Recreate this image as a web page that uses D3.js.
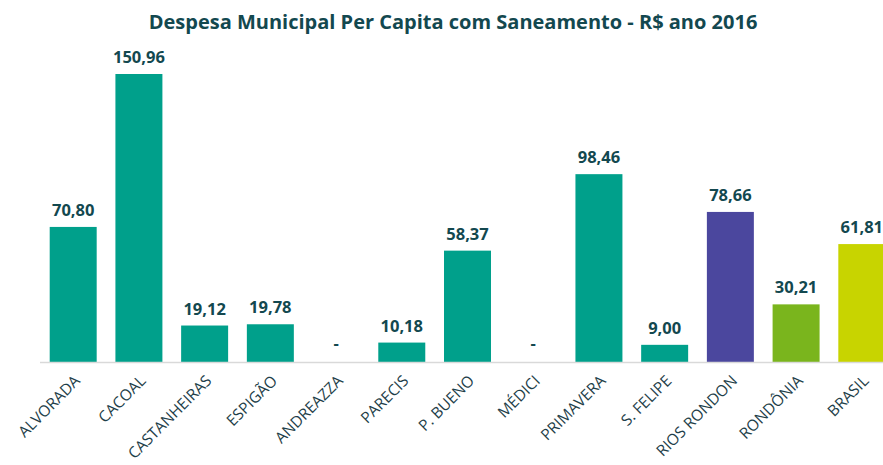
<!DOCTYPE html>
<html>
<head>
<meta charset="utf-8">
<script src="https://cdn.jsdelivr.net/npm/d3@7"></script>
<style>
  body { margin: 0; background: #fff; }
  text { font-family: "Open Sans", sans-serif; }
</style>
</head>
<body>
<script>
var w = 883; // width of SVG space
var h = 465; // height of SVG space

// data (null = no value, shown as "-")
var categories = ["ALVORADA", "CACOAL", "CASTANHEIRAS", "ESPIGÃO", "ANDREAZZA", "PARECIS", "P. BUENO",
                  "MÉDICI", "PRIMAVERA", "S. FELIPE", "RIOS RONDON", "RONDÔNIA", "BRASIL"];
var values = [70.80, 150.96, 19.12, 19.78, null, 10.18, 58.37, null, 98.46, 9.00, 78.66, 30.21, 61.81];
var barColors = ["#00a08b", "#00a08b", "#00a08b", "#00a08b", "#00a08b", "#00a08b", "#00a08b",
                 "#00a08b", "#00a08b", "#00a08b", "#4b479e", "#7ab51d", "#c8d400"];

var svg = d3.select("body").append("svg").attr("width", w).attr("height", h);

var baseY = 362;

var x = d3.scaleBand().domain(categories).range([40.5, 894.5]).paddingInner(0.285).paddingOuter(0.14);
var y = d3.scaleLinear().domain([0, 150.96]).range([baseY, 74]);

// title
svg.append("text")
  .attr("x", 453).attr("y", 29)
  .attr("text-anchor", "middle")
  .style("font-size", "20px").style("font-weight", "bold").style("fill", "#13484f")
  .text("Despesa Municipal Per Capita com Saneamento - R$ ano 2016");

// bars
svg.selectAll("rect.bar").data(categories).enter().append("rect")
  .attr("class", "bar")
  .attr("x", function (d) { return x(d); })
  .attr("width", x.bandwidth())
  .attr("y", function (d, i) { return y(values[i] || 0); })
  .attr("height", function (d, i) { return baseY - y(values[i] || 0); })
  .style("fill", function (d, i) { return barColors[i]; });

// baseline
svg.append("line")
  .attr("x1", 40).attr("x2", w).attr("y1", baseY + 0.5).attr("y2", baseY + 0.5)
  .style("stroke", "#d9d9d9").style("stroke-width", 1.5);

// value labels
svg.selectAll("text.val").data(categories).enter().append("text")
  .attr("class", "val")
  .attr("x", function (d) { return x(d) + x.bandwidth() / 2; })
  .attr("y", function (d, i) { return y(values[i] || 0) - (values[i] == null ? 13 : 11); })
  .attr("text-anchor", "middle")
  .style("font-size", "16.5px").style("font-weight", "bold").style("fill", "#13484f")
  .text(function (d, i) { return values[i] == null ? "-" : values[i].toFixed(2).replace(".", ","); });

// category labels
svg.selectAll("text.cat").data(categories).enter().append("text")
  .attr("class", "cat")
  .attr("transform", function (d) { return "translate(" + (x(d) + x.bandwidth() / 2 + 4) + "," + (baseY + 16) + ") rotate(-45)"; })
  .attr("text-anchor", "end")
  .attr("dy", "0.35em")
  .style("font-size", "15.5px").style("fill", "#1f3f4a")
  .text(function (d) { return d; });
</script>
</body>
</html>
